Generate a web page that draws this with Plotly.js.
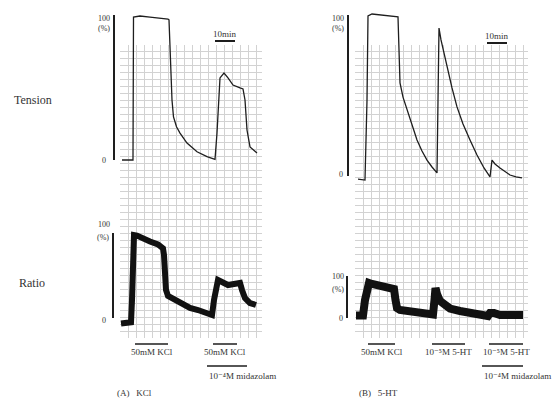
<!DOCTYPE html>
<html><head><meta charset="utf-8">
<script src="https://cdn.plot.ly/plotly-3.0.1.min.js"></script>
<style>html,body{margin:0;padding:0;background:#fff}</style>
</head><body><div id="chart" style="width:556px;height:400px"></div>
<script>
// ---- DATA (time in minutes, values in % of the 100% scale bar) ----
const tensionA_t = [4, 9.5, 9.75, 13, 18, 23, 27, 27.5, 28.25, 29, 29.75, 31.25, 33, 36.5, 41.5, 46.5, 50.5, 51, 51.5, 53, 55, 57, 59.5, 63, 64.5, 65.5, 66.5, 68, 71.5];
const tensionA_v = [0, 0, 98.6, 99.3, 98.6, 97.9, 97.2, 96.6, 64, 41.4, 29.7, 22.9, 18.6, 11.7, 5.7, 2.3, 0.5, 8, 18.6, 56.6, 60, 56.6, 51.7, 49.7, 49, 41.4, 20.7, 9, 4.8];
const ratioA_t = [3.5, 7.5, 8.5, 9, 9.5, 10, 11.5, 14, 18, 22, 24.5, 25, 25.5, 26, 27, 30.5, 34, 38, 42, 46, 49, 50, 51, 52, 54, 57, 60, 63, 64, 65.5, 68, 71];
const ratioA_v = [-6.5, -6, -5, 21, 90, 97.6, 97, 94, 90, 86.5, 82, 74, 44.7, 32.9, 25.9, 21.2, 15.3, 11.8, 9.4, 5.9, 3.5, 21.2, 38.8, 44.7, 42.4, 38.8, 40, 41.2, 33, 23.5, 17.6, 15.3];
const tensionB_t = [5, 8.5, 9.5, 10, 12, 16, 21, 25, 25.5, 26, 27.5, 29.5, 32, 34.5, 37, 39.5, 42, 44.5, 45, 45.5, 46.5, 48, 49.5, 52, 54.5, 57.5, 61, 64.5, 68, 71, 72, 73.5, 76, 78.5, 81, 84, 87];
const tensionB_v = [-1.9, -2.5, 47, 99.4, 100.6, 100, 99.4, 98.8, 78.3, 57.8, 49, 41, 31, 22.4, 15.5, 9.9, 5.6, 1.9, 47.2, 91.9, 84.5, 76.4, 67.7, 54.7, 42.9, 32.3, 22.4, 13, 5, -0.6, 9.9, 7.5, 5, 2.5, 0.6, -0.6, -1.2];
const ratioB_t = [4, 7.5, 8.5, 9.5, 10.5, 12, 16, 20, 23, 23.75, 24.5, 26, 31, 36, 42.5, 43.25, 43.75, 44.5, 46, 48.5, 51, 56, 61, 66, 70, 71, 73, 76, 81, 87.5];
const ratioB_v = [6, 6, 42.9, 73.8, 83.3, 81, 76.2, 72.6, 69, 42.9, 23.8, 19, 16.7, 13.1, 8.3, 42.9, 71.4, 57.1, 40.5, 28.6, 22.6, 16.7, 13.1, 8.3, 4.8, 11.9, 11.9, 7.1, 7.1, 7.1];
// drug application bars [start, end] in minutes, with labels
const drugsA_start = [10.5, 49.5];
const drugsA_end = [27, 61.5];
const drugsA_label = ["50mM KCl", "50mM KCl"];
const midaA = [46.5, 66.5];
const drugsB_start = [10, 42, 70.5];
const drugsB_end = [23.5, 58.5, 87.5];
const drugsB_label = ["50mM KCl", "10\u207B\u2075M 5-HT", "10\u207B\u2075M 5-HT"];
const midaB = [67, 87.5];
const midaLabel = "10\u207B\u2074M midazolam";
const scaleA_10min = [50.5, 60.5];
const scaleB_10min = [69.5, 79.5];

// ---- LAYOUT HELPERS (pixel geometry) ----
const W = 556, H = 400;
const px = x => x / W, py = y => 1 - y / H;
function xax(origin, ppm, left, right, anchor) {
  return {domain: [px(left), px(right)], range: [(left - origin) / ppm, (right - origin) / ppm], visible: false, anchor: anchor, fixedrange: true};
}
function yax(p0, p100, top, bottom, anchor) {
  const v = p => (p0 - p) / (p0 - p100) * 100;
  return {domain: [py(bottom), py(top)], range: [v(bottom), v(top)], visible: false, anchor: anchor, fixedrange: true};
}
const ink = '#1e1e1e';
const serif = 'Liberation Serif, DejaVu Serif, serif';

const traces = [
  {x: [], y: [], xaxis: 'x', yaxis: 'y', showlegend: false},
  {x: [], y: [], xaxis: 'x2', yaxis: 'y2', showlegend: false},
  {x: tensionA_t, y: tensionA_v, xaxis: 'x3', yaxis: 'y3', mode: 'lines', line: {color: ink, width: 1.3}, showlegend: false},
  {x: ratioA_t, y: ratioA_v, xaxis: 'x4', yaxis: 'y4', mode: 'lines', line: {color: '#111', width: 6}, showlegend: false},
  {x: tensionB_t, y: tensionB_v, xaxis: 'x5', yaxis: 'y5', mode: 'lines', line: {color: ink, width: 1.3}, showlegend: false},
  {x: ratioB_t, y: ratioB_v, xaxis: 'x6', yaxis: 'y6', mode: 'lines', line: {color: '#111', width: 8}, showlegend: false}
];

const gridAx = (l, r, t, b, dx, dy, xa, ya) => [
  {domain: [px(l), px(r)], range: [0, r - l], dtick: dx, showgrid: true, gridcolor: '#d2d2d2', gridwidth: 1, showticklabels: false, ticks: '', zeroline: false, showline: false, fixedrange: true, anchor: ya},
  {domain: [py(b), py(t)], range: [0, b - t], dtick: dy, showgrid: true, gridcolor: '#d2d2d2', gridwidth: 1, showticklabels: false, ticks: '', zeroline: false, showline: false, fixedrange: true, anchor: xa}
];
const gA = gridAx(120, 262, 45, 338, 8, 7, 'x', 'y');
const gB = gridAx(355, 528, 45, 338, 8, 7, 'x2', 'y2');

const layout = {
  width: W, height: H, margin: {l: 0, r: 0, t: 0, b: 0},
  paper_bgcolor: '#ffffff', plot_bgcolor: 'rgba(0,0,0,0)',
  showlegend: false,
  xaxis: gA[0], yaxis: gA[1],
  xaxis2: gB[0], yaxis2: gB[1],
  xaxis3: xax(114, 2, 114, 262, 'y3'),
  yaxis3: yax(160, 15, 8, 170, 'x3'),
  xaxis4: xax(114, 2, 114, 262, 'y4'),
  yaxis4: yax(318, 233, 220, 334, 'x4'),
  xaxis5: xax(348, 2, 348, 530, 'y5'),
  yaxis5: yax(176, 15, 8, 188, 'x5'),
  xaxis6: xax(348, 2, 348, 530, 'y6'),
  yaxis6: yax(318, 276, 268, 334, 'x6'),
  shapes: [], annotations: []
};

const S = layout.shapes, A = layout.annotations;
// vertical 100% scale bars
S.push({type: 'line', xref: 'paper', yref: 'y3', x0: px(114), x1: px(114), y0: 0, y1: 100, line: {color: ink, width: 2}});
S.push({type: 'line', xref: 'paper', yref: 'y4', x0: px(113), x1: px(113), y0: 0, y1: 100, line: {color: ink, width: 2}});
S.push({type: 'line', xref: 'paper', yref: 'y5', x0: px(348), x1: px(348), y0: 0, y1: 100, line: {color: ink, width: 2}});
S.push({type: 'line', xref: 'paper', yref: 'y6', x0: px(347), x1: px(347), y0: 0, y1: 100, line: {color: ink, width: 2}});
// 10 min bars
S.push({type: 'line', xref: 'x3', yref: 'paper', x0: scaleA_10min[0], x1: scaleA_10min[1], y0: py(41), y1: py(41), line: {color: ink, width: 2}});
S.push({type: 'line', xref: 'x5', yref: 'paper', x0: scaleB_10min[0], x1: scaleB_10min[1], y0: py(43), y1: py(43), line: {color: ink, width: 2}});
const f9 = {family: serif, size: 9, color: '#333'};
A.push({xref: 'x3', yref: 'paper', x: (scaleA_10min[0] + scaleA_10min[1]) / 2, y: py(34), yanchor: 'middle', text: '10min', showarrow: false, font: f9});
A.push({xref: 'x5', yref: 'paper', x: (scaleB_10min[0] + scaleB_10min[1]) / 2, y: py(36), yanchor: 'middle', text: '10min', showarrow: false, font: f9});

// drug bars
function drugs(xr, st, en, lab) {
  for (let i = 0; i < st.length; i++) {
    S.push({type: 'line', xref: xr, yref: 'paper', x0: st[i], x1: en[i], y0: py(344), y1: py(344), line: {color: ink, width: 1.5}});
    A.push({xref: xr, yref: 'paper', x: (st[i] + en[i]) / 2, y: py(352), yanchor: 'middle', text: lab[i], showarrow: false, font: f9});
  }
}
drugs('x4', drugsA_start, drugsA_end, drugsA_label);
drugs('x6', drugsB_start, drugsB_end, drugsB_label);
S.push({type: 'line', xref: 'x4', yref: 'paper', x0: midaA[0], x1: midaA[1], y0: py(366), y1: py(366), line: {color: ink, width: 1.5}});
S.push({type: 'line', xref: 'x6', yref: 'paper', x0: midaB[0], x1: midaB[1], y0: py(366), y1: py(366), line: {color: ink, width: 1.5}});
A.push({xref: 'x4', yref: 'paper', x: midaA[0], xanchor: 'left', y: py(376), yanchor: 'middle', text: midaLabel, showarrow: false, font: f9});
A.push({xref: 'x6', yref: 'paper', x: midaB[0], xanchor: 'left', y: py(376), yanchor: 'middle', text: midaLabel, showarrow: false, font: f9});

// small axis texts
function t(x, y, s, size, anchor) {
  A.push({xref: 'paper', yref: 'paper', x: px(x), y: py(y), text: s, showarrow: false, xanchor: anchor || 'center', yanchor: 'middle', font: {family: serif, size: size, color: '#333'}});
}
t(104, 18, '100', 8); t(104, 28, '(%)', 8); t(104, 160, '0', 8);
t(104, 224, '100', 8); t(103, 237, '(%)', 8); t(104, 320, '0', 8);
t(338, 18, '100', 8); t(338, 28, '(%)', 8); t(341, 174, '0', 8);
t(338, 276, '100', 8); t(338, 289, '(%)', 8); t(341, 318, '0', 8);
t(33, 100, 'Tension', 12); t(32, 283, 'Ratio', 12);
t(115, 393, '(A)\u00a0\u00a0\u00a0KCl', 9, 'left');
t(357, 393, '(B)\u00a0\u00a0\u00a05-HT', 9, 'left');

Plotly.newPlot('chart', traces, layout, {staticPlot: true, displayModeBar: false});
</script></body></html>
